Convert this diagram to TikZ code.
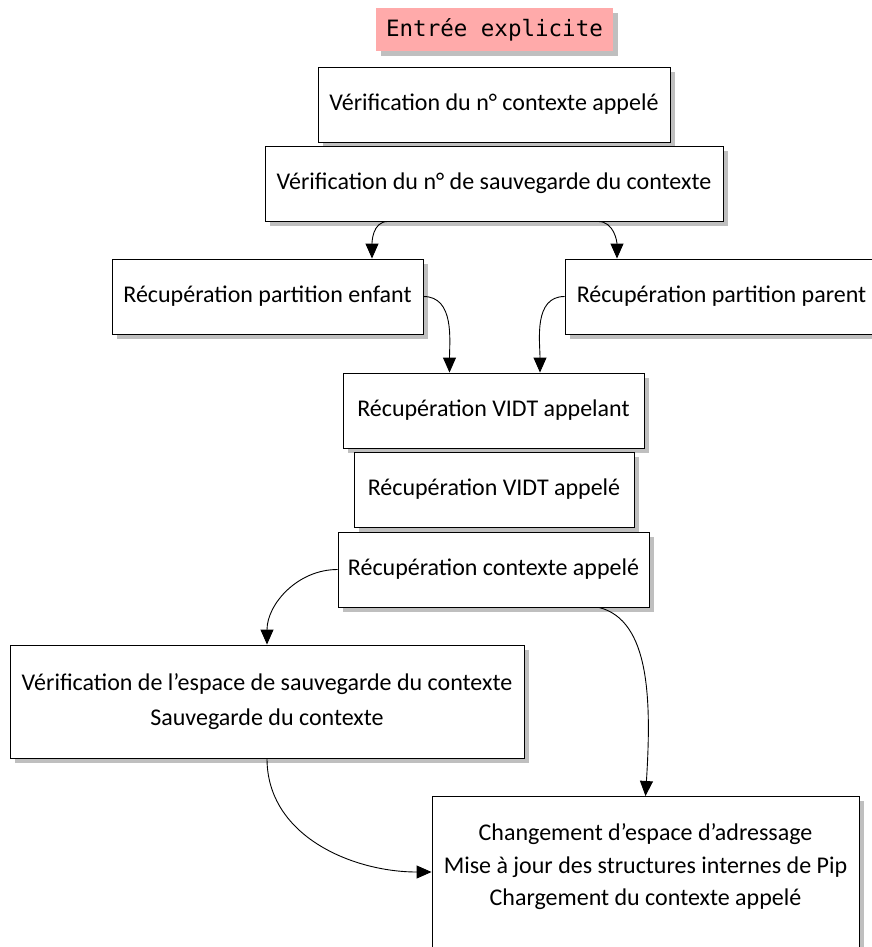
\documentclass[tikz,border=0pt]{standalone}
\usepackage{fontspec}
\setmainfont{Carlito}
\setmonofont{DejaVu Sans Mono}
\usetikzlibrary{arrows.meta,shadows}
\definecolor{pinkbox}{HTML}{FFAAAA}
\begin{document}
\begin{tikzpicture}[x=1pt,y=-1pt,
  shad/.style={drop shadow={shadow xshift=5pt,shadow yshift=-5pt,fill=black!25,opacity=1}},
  box/.style={draw=black, line width=0.9pt, fill=white, shad, inner sep=0pt,
    font=\fontsize{24}{34}\selectfont, align=center},
  conn/.style={line width=0.9pt, -{Triangle[length=15pt,width=13pt]}}]
\useasboundingbox (0,0) rectangle (872,947);
\node[fill=pinkbox, shad, minimum width=237, minimum height=43, inner sep=0pt,
  font=\ttfamily\fontsize{22.5}{26}\selectfont] (entree) at (494.5,29.5) {Entrée explicite};
\node[box, minimum width=352, minimum height=75] (b1) at (494,104.5) {Vérification du n° contexte appelé};
\node[box, minimum width=458, minimum height=75] (b2) at (494,183.5) {Vérification du n° de sauvegarde du contexte};
\node[box, minimum width=311, minimum height=75] (b3) at (267.5,296.5) {Récupération partition enfant};
\node[box, minimum width=313, minimum height=75] (b4) at (721.5,296.5) {Récupération partition parent};
\node[box, minimum width=301, minimum height=75] (b5) at (493.5,410.5) {Récupération VIDT appelant};
\node[box, minimum width=280, minimum height=75] (b6) at (494,489.5) {Récupération VIDT appelé};
\node[box, minimum width=311, minimum height=75] (b7) at (493.5,569.5) {Récupération contexte appelé};
\node[box, minimum width=514, minimum height=113, font=\fontsize{24}{35}\selectfont] (b8) at (267,701.5) {Vérification de l’espace de sauvegarde du contexte\\Sauvegarde du contexte};
\node[box, minimum width=427, minimum height=180, anchor=north] (b9) at (645.5,796) {};
\node[align=center, inner sep=0pt, font=\fontsize{24}{32.5}\selectfont] (b9t) at (645.5,867) {Changement d’espace d’adressage\\Mise à jour des structures internes de Pip\\Chargement du contexte appelé};
\draw[conn] ([xshift=-106pt]b2.south) to[out=180,in=90] ([xshift=104.5pt]b3.north);
\draw[conn] ([xshift=104pt]b2.south) to[out=0,in=90] ([xshift=-104.5pt]b4.north);
\draw[conn] (b3.east) to[out=0,in=90] ([xshift=-44pt]b5.north);
\draw[conn] (b4.west) to[out=180,in=90] ([xshift=46.5pt]b5.north);
\draw[conn] (b7.west) to[out=180,in=90] (b8.north);
\draw[conn] ([xshift=105.5pt]b7.south) .. controls +(51,13) and +(6,-96) .. (b9.north);
\draw[conn] (b8.south) to[out=-90,in=180] ([yshift=-5pt]b9t.west -| b9.west);
\end{tikzpicture}
\end{document}
